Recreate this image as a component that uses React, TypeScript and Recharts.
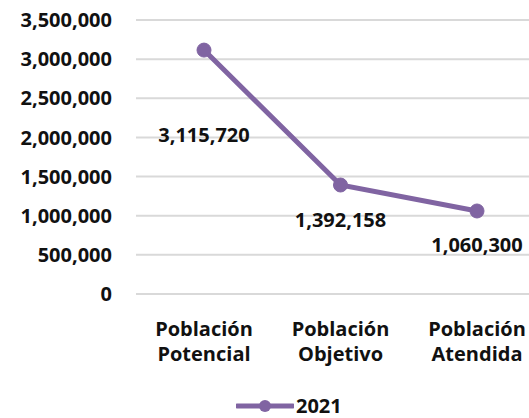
import { LineChart, Line, XAxis, YAxis, CartesianGrid, Legend, LabelList } from 'recharts';

const categories = ['Población Potencial', 'Población Objetivo', 'Población Atendida'];
const values2021 = [3115720, 1392158, 1060300];
const yTicks = [0, 500000, 1000000, 1500000, 2000000, 2500000, 3000000, 3500000];
const seriesName = '2021';

const data = categories.map((c, i) => ({ name: c, v2021: values2021[i] }));

const FONT = '"Open Sans", sans-serif';
const PURPLE = '#8064a2';
const TEXT = '#111';
// how far below each point its label sits (px)
const labelDrop = [85, 35, 34];

const fmt = (v: number) => v.toLocaleString('en-US');

function CategoryTick(props: any) {
  const { x, y, payload } = props;
  const [a, b] = String(payload.value).split(' ');
  return (
    <text x={x} y={y} textAnchor="middle" fontFamily={FONT} fontWeight={700} fontSize={20} fill={TEXT}>
      <tspan x={x} dy={34}>{a}</tspan>
      <tspan x={x} dy={25}>{b}</tspan>
    </text>
  );
}

function PointLabel(props: any) {
  const { x, y, value, index } = props;
  return (
    <text x={x} y={y + labelDrop[index]} dy="0.36em" textAnchor="middle" fontFamily={FONT} fontWeight={700} fontSize={20} fill={TEXT}>
      {fmt(value)}
    </text>
  );
}

function LegendBox() {
  return (
    <div style={{ display: 'flex', alignItems: 'center', height: 20, fontFamily: FONT, fontWeight: 700, fontSize: 20, lineHeight: '20px', color: TEXT }}>
      <svg width={58} height={16}>
        <line x1={1} y1={8} x2={57} y2={8} stroke={PURPLE} strokeWidth={5} strokeLinecap="round" />
        <circle cx={29} cy={8} r={6} fill={PURPLE} />
      </svg>
      <span style={{ marginLeft: 2 }}>{seriesName}</span>
    </div>
  );
}

export default function App() {
  return (
    <div style={{ position: 'fixed', left: 0, top: 0, width: 529, height: 418, overflow: 'hidden', background: '#fff' }}>
      <LineChart width={545} height={418} data={data} margin={{ top: 20, right: 0, left: 0, bottom: 0 }}>
        <CartesianGrid vertical={false} stroke="#d9d9d9" strokeWidth={2} />
        <XAxis
          dataKey="name"
          axisLine={{ stroke: '#d9d9d9', strokeWidth: 2 }}
          tickLine={false}
          height={104}
          padding={{ left: 68, right: 68 }}
          tick={<CategoryTick />}
          interval={0}
        />
        <YAxis
          width={136}
          domain={[0, 3500000]}
          ticks={yTicks}
          axisLine={false}
          tickLine={false}
          tickMargin={18}
          tickFormatter={fmt}
          tick={{ fontFamily: FONT, fontWeight: 700, fontSize: 20, fill: TEXT }}
        />
        <Legend
          content={<LegendBox />}
          wrapperStyle={{ position: 'absolute', left: 236, top: 396, height: 20, width: 'auto', bottom: 'auto' }}
        />
        <Line
          type="linear"
          dataKey="v2021"
          name={seriesName}
          stroke={PURPLE}
          strokeWidth={5}
          dot={{ r: 7, fill: PURPLE, stroke: PURPLE, strokeWidth: 1 }}
          isAnimationActive={false}
        >
          <LabelList dataKey="v2021" content={<PointLabel />} />
        </Line>
      </LineChart>
    </div>
  );
}
